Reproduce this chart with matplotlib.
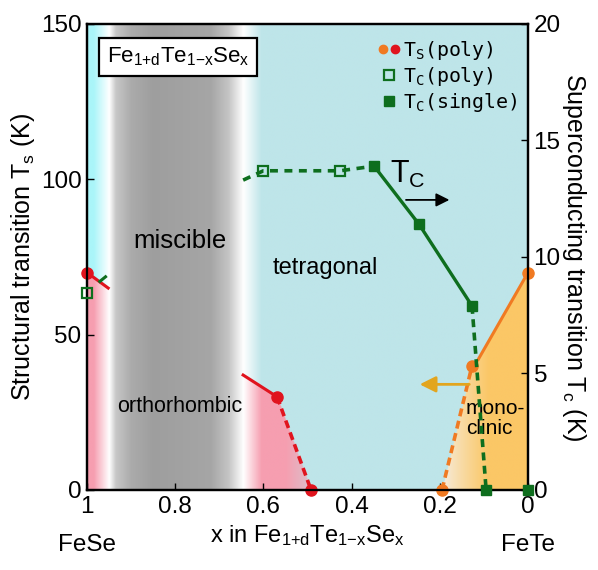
import numpy as np
import matplotlib
matplotlib.use('Agg')
from matplotlib import pyplot as plt
from matplotlib.legend_handler import HandlerTuple
from matplotlib.transforms import blended_transform_factory

plt.rcParams['font.family'] = ['Liberation Sans', 'DejaVu Sans']
plt.rcParams['mathtext.default'] = 'regular'

# structural transition T_s (K), polycrystals, left axis
ts_fese_x = [1.0, 0.952]
ts_fese_t = [70, 65]
ts_mid_x = [0.646, 0.569, 0.492]
ts_mid_t = [37, 30, 0]
ts_red_dot_x = [1.0, 0.569, 0.492]
ts_red_dot_t = [70, 30, 0]
ts_fete_x = [0.195, 0.127, 0.113, 0.0]
ts_fete_t = [0, 40, 42, 70]
ts_orange_dot_x = [0.195, 0.127, 0.0]
ts_orange_dot_t = [0, 40, 70]

# superconducting transition T_c (K), right axis
tc_poly_x = [1.0, 0.600, 0.426]
tc_poly_t = [8.45, 13.7, 13.7]
tc_poly_line_x = [0.646, 0.600, 0.426, 0.349]
tc_poly_line_t = [13.3, 13.7, 13.7, 13.9]
tc_fese_line_x = [0.971, 0.958]
tc_fese_line_t = [8.95, 9.15]
tc_single_x = [0.349, 0.247, 0.127, 0.095, 0.0]
tc_single_t = [13.9, 11.4, 7.9, 0, 0]

xticks = [1, 0.8, 0.6, 0.4, 0.2, 0]
xticklabels = ['1', '0.8', '0.6', '0.4', '0.2', '0']

RED = '#e0141e'
ORANGE = '#f07a22'
GREEN = '#0e6e1e'
FS = 17.5

fig = plt.figure(figsize=(5.98, 5.70), dpi=100)
ax = fig.add_axes([0.1455, 0.1404, 0.7375, 0.8175])

# ---- shaded phase regions ----
W, H = 700, 600
gx = np.linspace(1, 0, W)
gy = np.linspace(0, 150, H)
X, Y = np.meshgrid(gx, gy)
cyan = np.array([190, 229, 233]) / 255
cyan_hi = np.array([170, 245, 249]) / 255
pink = np.array([246, 158, 176]) / 255
orange = np.array([251, 199, 102]) / 255
cream = np.array([246, 236, 220]) / 255
img = np.ones((H, W, 3)) * cyan

# FeSe side strip
strip = X > 0.95
sb = np.interp(X, [0.93, 1.0], [63, 70])
col = np.where((Y < sb)[..., None], pink, cyan_hi)
fade = np.clip((0.985 - X) / 0.035, 0, 1)[..., None]
img = np.where(strip[..., None], col * (1 - fade) + fade, img)

# miscibility gap band
band = (X <= 0.95) & (X >= 0.646)
g = np.interp(X, [0.646, 0.655, 0.68, 0.72, 0.85, 0.9, 0.935, 0.95],
              [1, 0.94, 0.77, 0.65, 0.62, 0.67, 0.78, 1])
img = np.where(band[..., None], np.repeat(g[..., None], 3, axis=2), img)

# orthorhombic pocket and tetragonal region right of the band
right = X < 0.646
pb = np.interp(X, ts_mid_x[::-1], ts_mid_t[::-1])
pw = (0.5 + 0.5 * np.clip((X - 0.49) / 0.06, 0, 1))[..., None]
under = (Y < pb) & (X > 0.49)
col = np.where(under[..., None], pink * pw + cyan * (1 - pw), cyan)
wf = np.clip((X - 0.605) / 0.041, 0, 1)[..., None]
col = col * (1 - wf) + wf
img = np.where(right[..., None], col, img)

# monoclinic region
ob = np.interp(X, ts_fete_x[::-1], ts_fete_t[::-1])
mono = (Y < ob) & (X < 0.195)
ow = (np.clip((0.19 - X) / 0.1, 0, 1) ** 0.8)[..., None]
img = np.where(mono[..., None], cream * (1 - ow) + orange * ow, img)

ax.imshow(img, extent=(1, 0, 0, 150), origin='lower', aspect='auto',
          interpolation='bilinear', zorder=0)

# ---- T_s curves ----
ax.plot(ts_fese_x, ts_fese_t, color=RED, lw=2.2, zorder=3)
ax.plot(ts_mid_x[:2], ts_mid_t[:2], color=RED, lw=2.2, zorder=3)
ax.plot(ts_mid_x[1:], ts_mid_t[1:], color=RED, lw=2.6, ls=(0, (2.2, 1.3)), zorder=3)
ax.plot(ts_fete_x[:2], ts_fete_t[:2], color=ORANGE, lw=2.6, ls=(0, (2.2, 1.3)), zorder=3)
ax.plot(ts_fete_x[2:], ts_fete_t[2:], color=ORANGE, lw=2.2, zorder=3)
ax.plot(ts_red_dot_x, ts_red_dot_t, 'o', color=RED, ms=8, clip_on=False, zorder=4)
ax.plot(ts_orange_dot_x, ts_orange_dot_t, 'o', color=ORANGE, ms=8, clip_on=False, zorder=4)

ax.set_xlim(1, 0)
ax.set_ylim(0, 150)
ax.set_xticks(xticks)
ax.set_xticklabels(xticklabels)
ax.set_yticks([0, 50, 100, 150])
ax.tick_params(direction='in', length=5, width=1, labelsize=FS, pad=4)
ax.set_ylabel('Structural transition T$_s$ (K)', fontsize=18, labelpad=3)
ax.set_xlabel('x in Fe$_{1{+}d}$Te$_{1{-}x}$Se$_x$', fontsize=17, labelpad=4)
for sp in ax.spines.values():
    sp.set_linewidth(1.6)

trans = blended_transform_factory(ax.transData, ax.transAxes)
ax.text(1.0, -0.118, 'FeSe', transform=trans, ha='center', va='center', fontsize=FS)
ax.text(0.0, -0.118, 'FeTe', transform=trans, ha='center', va='center', fontsize=FS)

# phase labels
ax.text(0.79, 80, 'miscible', ha='center', va='center', fontsize=18.5)
ax.text(0.46, 71.5, 'tetragonal', ha='center', va='center', fontsize=17)
ax.text(0.79, 27, 'orthorhombic', ha='center', va='center', fontsize=15.5)
ax.text(0.141, 23, 'mono-\nclinic', ha='left', va='center', fontsize=15, linespacing=1.1)
ax.text(0.955, 139.5, 'Fe$_{1{+}d}$Te$_{1{-}x}$Se$_x$', ha='left', va='center', fontsize=16,
        zorder=6, bbox=dict(boxstyle='square,pad=0.35', fc='white', ec='black', lw=1.6))

ax.annotate('', xy=(0.252, 34), xytext=(0.127, 34),
            arrowprops=dict(arrowstyle='-|>', color='#e2a51e', lw=2, mutation_scale=24), zorder=5)

# ---- T_c curves ----
ax2 = ax.twinx()
ax2.set_ylim(0, 20)
ax2.set_yticks([0, 5, 10, 15, 20])
ax2.tick_params(direction='in', length=5, width=1, labelsize=FS, pad=4)
ax2.set_ylabel('Superconducting transition T$_c$ (K)', fontsize=18, rotation=270, labelpad=20)
for sp in ax2.spines.values():
    sp.set_linewidth(1.6)

ax2.plot(tc_poly_line_x, tc_poly_line_t, color=GREEN, lw=2.6, ls=(0, (2.2, 1.8)), zorder=3)
ax2.plot(tc_fese_line_x, tc_fese_line_t, color=GREEN, lw=2.2, zorder=3)
ax2.plot(tc_single_x[:3], tc_single_t[:3], color=GREEN, lw=2.4, zorder=3)
ax2.plot(tc_single_x[2:4], tc_single_t[2:4], color=GREEN, lw=2.6, ls=(0, (2.2, 1.5)), zorder=3)
h_poly, = ax2.plot(tc_poly_x, tc_poly_t, 's', mfc='none', mec=GREEN, mew=1.6, ms=7,
                   clip_on=False, zorder=4)
h_single, = ax2.plot(tc_single_x, tc_single_t, 's', color=GREEN, ms=6.5, clip_on=False, zorder=4)

ax2.text(0.272, 13.55, 'T$_C$', ha='center', va='center', fontsize=22)
ax2.annotate('', xy=(0.172, 12.45), xytext=(0.283, 12.45),
             arrowprops=dict(arrowstyle='-|>', color='black', lw=1.3, mutation_scale=20))

# legend
h_or, = ax2.plot([], [], 'o', color=ORANGE, ms=6)
h_rd, = ax2.plot([], [], 'o', color=RED, ms=6)
leg = ax2.legend([(h_or, h_rd), h_poly, h_single],
                 ['T$_S$(poly)', 'T$_C$(poly)', 'T$_C$(single)'],
                 handler_map={tuple: HandlerTuple(ndivide=None, pad=0.1)},
                 loc='upper right', bbox_to_anchor=(0.995, 0.985), frameon=False,
                 prop={'family': 'DejaVu Sans Mono', 'size': 14.3},
                 handlelength=1.1, handletextpad=0.15, labelspacing=0.15, borderaxespad=0)

fig.savefig('out.png', dpi=100)
